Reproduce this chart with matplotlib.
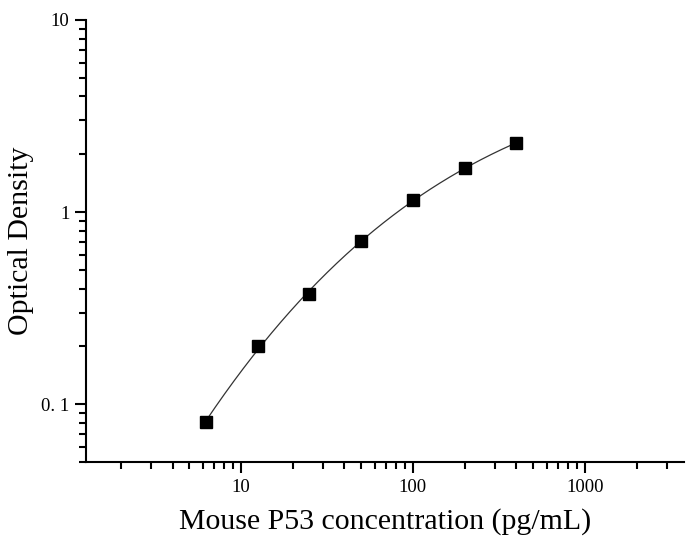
import numpy as np
from matplotlib import pyplot as plt
from matplotlib.ticker import LogLocator, FixedLocator, FixedFormatter, NullFormatter

# standard concentrations (pg/mL) and measured OD
conc = [6.25, 12.5, 25, 50, 100, 200, 400]
od = [0.0806, 0.2005, 0.374, 0.706, 1.155, 1.695, 2.287]

x_ticks = [10, 100, 1000]
x_labels = ["10", "100", "1000"]
y_ticks = [0.1, 1, 10]
y_labels = ["0. 1", "1", "10"]

plt.rcParams['font.family'] = ['Liberation Serif', 'DejaVu Serif']

fig = plt.figure(figsize=(6.86, 5.36), dpi=100)
ax = fig.add_axes([0.1254, 0.138, 0.8716, 0.8247])

# smooth fit in log-log space
lx = np.log10(conc)
ly = np.log10(od)
coef = np.polyfit(lx, ly, 3)
xs = np.linspace(lx[0], lx[-1], 300)
ax.plot(10**xs, 10**np.polyval(coef, xs), color='#333333', lw=0.9)
ax.plot(conc, od, 's', color='black', ms=8, mec='black')

ax.set_xscale('log')
ax.set_yscale('log')
ax.set_xlim(1.256, 3770)
ax.set_ylim(0.05, 10)

ax.xaxis.set_major_locator(FixedLocator(x_ticks))
ax.xaxis.set_major_formatter(FixedFormatter(x_labels))
ax.yaxis.set_major_locator(FixedLocator(y_ticks))
ax.yaxis.set_major_formatter(FixedFormatter(y_labels))
ax.xaxis.set_minor_locator(LogLocator(base=10, subs=np.arange(2, 10), numticks=20))
ax.yaxis.set_minor_locator(LogLocator(base=10, subs=np.arange(2, 10), numticks=20))
ax.xaxis.set_minor_formatter(NullFormatter())
ax.yaxis.set_minor_formatter(NullFormatter())

for s in ['top', 'right']:
    ax.spines[s].set_visible(False)
for s in ['left', 'bottom']:
    ax.spines[s].set_linewidth(1.5)

ax.tick_params(which='major', direction='out', length=8, width=1.5, labelsize=13.5, pad=4)
ax.tick_params(which='minor', direction='out', length=5, width=1.5)

ax.set_xlabel("Mouse P53 concentration (pg/mL)", fontsize=21.5, labelpad=9)
ax.set_ylabel("Optical Density", fontsize=21.5, labelpad=5)

plt.savefig("out.png", dpi=100)
